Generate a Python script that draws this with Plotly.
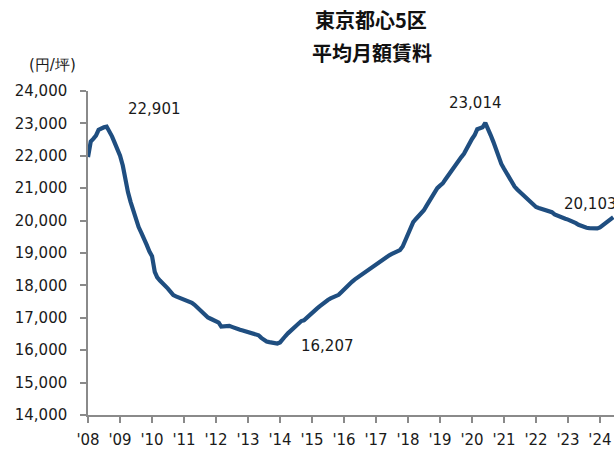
import pandas as pd
import plotly.graph_objects as go

# Average monthly rent, Tokyo central 5 wards (yen per tsubo), Jan 2008 - Jun 2024
rent_2008 = [21960, 22440, 22520, 22620, 22800, 22860, 22880, 22901, 22760, 22600, 22400, 22230]
rent_2009 = [22000, 21700, 21250, 20880, 20580, 20300, 20020, 19800, 19620, 19460, 19250, 19050]
rent_2010 = [18900, 18420, 18250, 18150, 18080, 18010, 17900, 17800, 17700, 17660, 17630, 17600]
rent_2011 = [17570, 17530, 17490, 17460, 17400, 17320, 17220, 17130, 17060, 17010, 16970, 16940]
rent_2012 = [16910, 16850, 16730, 16740, 16760, 16750, 16720, 16680, 16650, 16630, 16610, 16590]
rent_2013 = [16570, 16550, 16530, 16500, 16460, 16380, 16310, 16270, 16250, 16230, 16215, 16207]
rent_2014 = [16240, 16320, 16430, 16520, 16600, 16690, 16760, 16840, 16900, 16920, 17000, 17100]
rent_2015 = [17180, 17230, 17290, 17360, 17430, 17490, 17550, 17600, 17640, 17670, 17710, 17790]
rent_2016 = [17880, 17960, 18040, 18110, 18180, 18240, 18300, 18370, 18420, 18490, 18550, 18600]
rent_2017 = [18650, 18710, 18770, 18830, 18880, 18930, 18970, 19010, 19040, 19090, 19200, 19400]
rent_2018 = [19600, 19780, 19950, 20050, 20130, 20210, 20320, 20460, 20600, 20740, 20880, 21000]
rent_2019 = [21080, 21150, 21260, 21380, 21500, 21640, 21770, 21860, 21960, 22060, 22220, 22400]
rent_2020 = [22520, 22640, 22820, 22850, 22880, 23014, 22850, 22640, 22430, 22180, 21940, 21750]
rent_2021 = [21600, 21450, 21300, 21160, 21050, 20960, 20880, 20800, 20720, 20640, 20550, 20470]
rent_2022 = [20420, 20390, 20360, 20330, 20310, 20290, 20260, 20190, 20150, 20120, 20090, 20060]
rent_2023 = [20030, 20000, 19960, 19920, 19870, 19830, 19800, 19780, 19770, 19760, 19760, 19760]
rent_2024 = [19790, 19850, 19900, 19950, 20030, 20103]

rent = (rent_2008 + rent_2009 + rent_2010 + rent_2011 + rent_2012 + rent_2013
        + rent_2014 + rent_2015 + rent_2016 + rent_2017 + rent_2018 + rent_2019
        + rent_2020 + rent_2021 + rent_2022 + rent_2023 + rent_2024)
months = pd.date_range("2008-01-01", periods=len(rent), freq="MS")

year_ticks = [f"{y}-01-01" for y in range(2008, 2025)]
year_labels = [f"'{y % 100:02d}" for y in range(2008, 2025)]
y_ticks = list(range(14000, 24001, 1000))

# labelled points: (date, value, xshift, yshift, xanchor)
callouts = [
    ("2008-08-01", 22901, 48, 18, "center"),
    ("2013-12-01", 16207, 50, -3, "center"),
    ("2020-06-01", 23014, -10, 20, "center"),
    ("2024-06-01", 20103, -51, 13, "left"),
]

LINE_BLUE = "#1f4e80"
AXIS_GREY = "#8a8a8a"
TEXT = "#1a1a1a"
FONT = "DejaVu Sans"

fig = go.Figure()
fig.add_trace(go.Scatter(
    x=months, y=rent, mode="lines",
    line=dict(color=LINE_BLUE, width=4.2, shape="linear"),
    hoverinfo="skip", showlegend=False,
))

for d, v, dx, dy, anchor in callouts:
    fig.add_annotation(
        x=d, y=v, xref="x", yref="y", text=f"{v:,}", showarrow=False,
        xshift=dx, yshift=dy, xanchor=anchor, yanchor="middle",
        font=dict(family=FONT, size=15, color=TEXT),
    )

# two-line title and unit label, placed in pixels from the top-left corner
W, H, L, R, T, B = 614, 449, 88, 0, 91, 31
header = [
    (371, 19, "<b>東京都心5区</b>", "Noto Sans CJK JP", 20, "#111"),
    (371.5, 52, "<b>平均月額賃料</b>", "Noto Sans CJK JP", 20, "#111"),
    (52, 65, "(円/坪)", FONT, 15, TEXT),
]
for px, py, txt, fam, size, col in header:
    fig.add_annotation(
        x=(px - L) / (W - L - R), y=(H - py - B) / (H - T - B),
        xref="paper", yref="paper", text=txt, showarrow=False,
        xanchor="center", yanchor="middle",
        font=dict(family=fam, size=size, color=col),
    )

fig.update_layout(
    width=W, height=H,
    margin=dict(l=L, r=R, t=T, b=B, pad=0),
    paper_bgcolor="white", plot_bgcolor="white",
    font=dict(family=FONT, size=15, color=TEXT),
    xaxis=dict(
        type="date", range=["2008-01-01", "2024-06-09"],
        tickmode="array", tickvals=year_ticks, ticktext=year_labels,
        ticks="outside", ticklen=6, tickwidth=1.5, tickcolor=AXIS_GREY,
        showline=True, linecolor=AXIS_GREY, linewidth=1.5,
        showgrid=False, zeroline=False, ticklabelstandoff=4,
        tickfont=dict(family=FONT, size=15, color=TEXT),
    ),
    yaxis=dict(
        range=[14000, 24000], tickmode="array", tickvals=y_ticks,
        tickformat=",d",
        ticks="outside", ticklen=6, tickwidth=1.5, tickcolor=AXIS_GREY,
        showline=True, linecolor=AXIS_GREY, linewidth=1.5,
        showgrid=False, zeroline=False, ticklabelstandoff=10,
        tickfont=dict(family=FONT, size=15, color=TEXT),
    ),
)

fig.write_html("out.html")
